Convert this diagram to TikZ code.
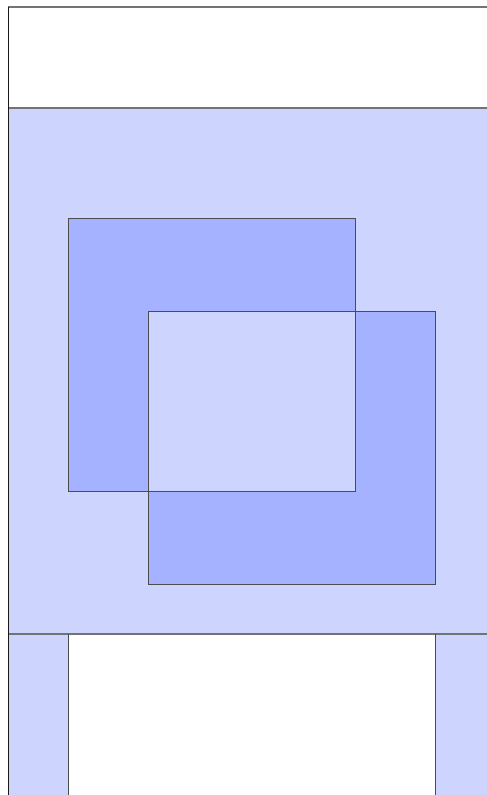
\documentclass[tikz,border=0pt]{standalone}
\definecolor{lightb}{RGB}{205,213,255}
\definecolor{darkb}{RGB}{164,178,255}
\begin{document}
\begin{tikzpicture}[x=1pt,y=-1pt,
  edge/.style={draw=black!70,line width=1pt},
  sepline/.style={draw=black!55,line width=1.5pt}]
\useasboundingbox (0,0) rectangle (487,795);
\fill[white] (0,0) rectangle (487,795);
% light band
\fill[lightb] (9,108) rectangle (487,634);
% bottom strips
\fill[lightb] (9,634) rectangle (68,795);
\fill[lightb] (435,634) rectangle (487,795);
% xor of rectangles
\fill[darkb,even odd rule] (68,218) rectangle (355,491) (148,311) rectangle (435,584);
\draw[edge] (68,218) rectangle (355,491);
\draw[edge] (148,311) rectangle (435,584);
% lines
\draw[sepline] (8,7) -- (487,7);
\draw[sepline] (9,108) -- (487,108);
\draw[sepline] (9,634) -- (487,634);
\draw[edge] (68,634) -- (68,795);
\draw[edge] (435,634) -- (435,795);
\draw[draw=black!90,line width=1.2pt] (8.5,7) -- (8.5,795);
\end{tikzpicture}
\end{document}
